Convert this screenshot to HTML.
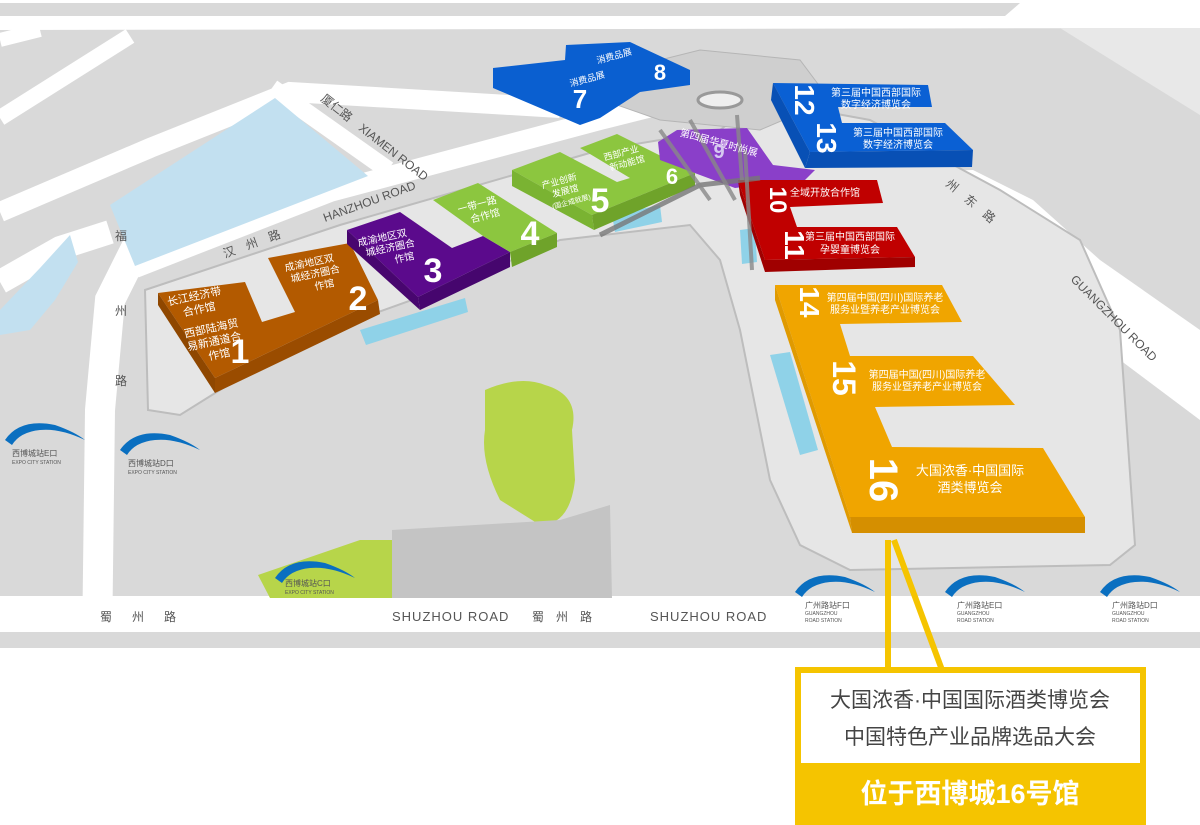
<!DOCTYPE html>
<html><head><meta charset="utf-8"><style>
html,body{margin:0;padding:0;background:#fff;}
svg{display:block;font-family:"Liberation Sans","Noto Sans CJK SC",sans-serif;}
</style></head><body>
<svg width="1200" height="825" viewBox="0 0 1200 825" xmlns="http://www.w3.org/2000/svg">
<rect x="0" y="0" width="1200" height="650" fill="#d9d9d9"/>
<!-- roads -->
<rect x="0" y="0" width="1200" height="3" fill="#fff"/>
<polygon points="1020,3 1200,3 1200,16 1005,16" fill="#fff"/>
<polygon points="0,16 1200,16 1200,28 0,30" fill="#fff"/>
<polygon points="1060,28 1200,28 1200,115" fill="#e8e8e8"/>
<g stroke="#fff" fill="none" stroke-linecap="butt">
<path d="M0 118 L130 36" stroke-width="16"/>
<path d="M0 212 L150 148 L290 92 L560 108" stroke-width="20"/>
<path d="M272 88 L388 170" stroke-width="18"/>
<path d="M135 268 L330 192 L600 120 L700 95" stroke-width="20"/>
<path d="M97 650 L100 410 L110 300 L140 240 L205 200" stroke-width="30"/>
<path d="M0 282 L60 248 L110 232" stroke-width="24"/>
<path d="M0 40 L40 30" stroke-width="14"/>
</g>
<polygon points="900,172 973,170 1033,200 1100,260 1200,330 1200,420 1120,360 1050,287 967,233" fill="#fff"/>
<rect x="0" y="596" width="1200" height="36" fill="#fff"/>
<rect x="65" y="632" width="645" height="16" fill="#d9d9d9"/>
<rect x="726" y="632" width="466" height="16" fill="#d9d9d9"/>
<rect x="0" y="648" width="1200" height="177" fill="#fff"/>
<!-- water -->
<polygon points="110,205 275,98 368,176 135,266" fill="#c2e0f0"/>
<polygon points="0,310 40,268 70,235 78,262 55,300 30,330 0,335" fill="#c2e0f0"/>
<!-- venue site -->
<path d="M145 290 L340 225 L600 150 L720 130 L760 100 L870 120 L1000 190 L1080 240 L1120 330 L1135 545 L1110 565 L850 570 L800 545 L770 480 L740 330 L720 260 L690 225 L560 240 L440 290 L300 340 L220 390 L180 415 L148 410 Z" fill="#e6e6e6" stroke="#bdbdbd" stroke-width="2"/>
<path d="M560 85 L700 50 L800 60 L830 100 L760 130 L660 120 Z" fill="#cfcfcf" stroke="#b5b5b5"/>
<!-- greens & dark -->
<path d="M485 390 Q520 375 545 385 Q580 395 572 430 L575 480 Q570 525 540 525 L500 500 Q480 460 485 430 Z" fill="#b7d54a"/>
<polygon points="258,575 360,540 395,540 395,598 270,598" fill="#b7d54a"/>
<polygon points="392,530 560,520 610,505 612,598 392,598" fill="#c4c4c4"/>
<!-- cyan slabs -->
<polygon points="360,330 465,298 468,312 366,345" fill="#8fd2e8"/>
<polygon points="612,215 660,205 662,222 615,232" fill="#8fd2e8"/>
<polygon points="770,355 790,352 818,450 800,455" fill="#8fd2e8"/>
<polygon points="740,230 755,228 757,262 742,264" fill="#8fd2e8"/>
<!-- buildings -->
<polygon points="158,293 245,282 262,322 295,312 268,258 350,243 378,300 215,378" fill="#b35a00"/>
<polygon points="158,293 215,378 215,393 158,305" fill="#8f4700"/>
<polygon points="215,378 378,300 380,314 215,393" fill="#9a4c00"/>
<polygon points="347,230 400,212 452,248 483,236 510,252 418,297" fill="#5b0a8c"/>
<polygon points="347,230 418,297 420,310 347,244" fill="#48066f"/>
<polygon points="418,297 510,252 510,267 420,310" fill="#46066e"/>
<polygon points="433,200 478,183 557,233 510,252 483,236" fill="#8cc63f"/>
<polygon points="510,252 557,233 557,247 512,267" fill="#6fa32a"/>
<polygon points="512,170 560,152 617,182 630,178 580,148 617,134 695,173 592,215" fill="#8cc63f"/>
<polygon points="512,170 592,215 594,230 512,186" fill="#7ab332"/>
<polygon points="592,215 695,173 695,186 594,230" fill="#6fa32a"/>
<polygon points="658,142 677,130 747,128 773,165 815,170 805,180 735,188 700,175 660,160" fill="#8a3fc9"/>
<polygon points="493,68 565,60 566,45 630,42 690,70 690,85 640,92 600,118 580,125 493,88" fill="#0a5fd0"/>
<polygon points="773,83 928,85 932,107 838,107 842,123 945,123 973,150 810,152" fill="#0a60d4"/>
<polygon points="773,83 810,152 805,168 771,100" fill="#0850b5"/>
<polygon points="810,152 973,150 972,167 805,168" fill="#0850b5"/>
<polygon points="738,180 877,180 883,203 790,207 797,227 897,227 915,257 765,260" fill="#c00000"/>
<polygon points="738,180 765,260 765,272 740,195" fill="#a00000"/>
<polygon points="765,260 915,257 915,267 765,272" fill="#a00000"/>
<polygon points="775,285 942,285 962,322 840,324 850,356 973,356 1015,405 875,407 892,447 1043,448 1085,517 850,517" fill="#f0a500"/>
<polygon points="775,285 850,517 852,533 775,300" fill="#e09a00"/>
<polygon points="850,517 1085,517 1085,533 852,533" fill="#d58f00"/>
<!-- bridges -->
<path d="M600 235 L700 185 L760 178" stroke="#777" stroke-width="5" fill="none" opacity="0.8"/>
<path d="M660 130 L710 200 M690 120 L735 200 M737 115 L742 180 M745 150 L752 270" stroke="#888" stroke-width="4" fill="none" opacity="0.8"/>
<ellipse cx="720" cy="100" rx="22" ry="8" fill="#eee" stroke="#999" stroke-width="3"/>
<!-- building labels -->
<g fill="#fff" font-size="11" text-anchor="middle">
<text x="195" y="300" transform="rotate(-12 195 300)">长江经济带</text>
<text x="200" y="313" transform="rotate(-12 200 313)">合作馆</text>
<text x="212" y="332" transform="rotate(-12 212 332)">西部陆海贸</text>
<text x="215" y="345" transform="rotate(-12 215 345)">易新通道合</text>
<text x="220" y="358" transform="rotate(-12 220 358)">作馆</text>
<text x="310" y="266" font-size="10" transform="rotate(-12 310 266)">成渝地区双</text>
<text x="316" y="277" font-size="10" transform="rotate(-12 316 277)">城经济圈合</text>
<text x="325" y="288" font-size="10" transform="rotate(-12 325 288)">作馆</text>
<text x="383" y="241" font-size="10" transform="rotate(-12 383 241)">成渝地区双</text>
<text x="391" y="251" font-size="10" transform="rotate(-12 391 251)">城经济圈合</text>
<text x="405" y="261" font-size="10" transform="rotate(-12 405 261)">作馆</text>
<text x="478" y="208" font-size="10" transform="rotate(-15 478 208)">一带一路</text>
<text x="486" y="219" font-size="10" transform="rotate(-15 486 219)">合作馆</text>
<text x="560" y="184" font-size="9" transform="rotate(-15 560 184)">产业创新</text>
<text x="566" y="194" font-size="9" transform="rotate(-15 566 194)">发展馆</text>
<text x="572" y="204" font-size="7" transform="rotate(-15 572 204)">(国企成就展)</text>
<text x="622" y="156" font-size="9" transform="rotate(-15 622 156)">西部产业</text>
<text x="628" y="166" font-size="9" transform="rotate(-15 628 166)">新动能馆</text>
<text x="718" y="146" font-size="10" transform="rotate(15 718 146)">第四届华夏时尚展</text>
<text x="588" y="82" font-size="9" transform="rotate(-15 588 82)">消费品展</text>
<text x="615" y="59" font-size="9" transform="rotate(-15 615 59)">消费品展</text>
<text x="876" y="96" font-size="10">第三届中国西部国际</text>
<text x="876" y="108" font-size="10">数字经济博览会</text>
<text x="898" y="136" font-size="10">第三届中国西部国际</text>
<text x="898" y="148" font-size="10">数字经济博览会</text>
<text x="825" y="196" font-size="10">全域开放合作馆</text>
<text x="850" y="240" font-size="10">第三届中国西部国际</text>
<text x="850" y="253" font-size="10">孕婴童博览会</text>
<text x="885" y="301" font-size="10">第四届中国(四川)国际养老</text>
<text x="885" y="313" font-size="10">服务业暨养老产业博览会</text>
<text x="927" y="378" font-size="10">第四届中国(四川)国际养老</text>
<text x="927" y="390" font-size="10">服务业暨养老产业博览会</text>
<text x="970" y="475" font-size="13">大国浓香·中国国际</text>
<text x="970" y="492" font-size="13">酒类博览会</text>
</g>
<g fill="#fff" font-size="34" font-weight="bold" text-anchor="middle">
<text x="240" y="363">1</text><text x="358" y="310">2</text><text x="433" y="282">3</text>
<text x="530" y="245">4</text><text x="600" y="212">5</text><text x="672" y="184" font-size="22">6</text>
<text x="580" y="108" font-size="26">7</text><text x="660" y="80" font-size="22">8</text>
<text x="719" y="158" font-size="20" fill="#d6c8f0">9</text>
<text x="770" y="200" font-size="24" transform="rotate(90 770 200)">10</text>
<text x="785" y="245" font-size="28" transform="rotate(90 785 245)">11</text>
<text x="795" y="100" font-size="28" transform="rotate(90 795 100)">12</text>
<text x="817" y="138" font-size="28" transform="rotate(90 817 138)">13</text>
<text x="800" y="302" font-size="28" transform="rotate(90 800 302)">14</text>
<text x="833" y="378" font-size="32" transform="rotate(90 833 378)">15</text>
<text x="870" y="480" font-size="40" transform="rotate(90 870 480)">16</text>
</g>
<!-- road labels -->
<g fill="#555" font-size="12">
<text x="115" y="240">福</text><text x="115" y="315">州</text><text x="115" y="385">路</text>
<text x="225" y="258" transform="rotate(-20 225 258)">汉　州　路</text>
<text x="325" y="222" transform="rotate(-20 325 222)">HANZHOU ROAD</text>
<text x="320" y="100" transform="rotate(38 320 100)">厦仁路　XIAMEN ROAD</text>
<text x="945" y="185" transform="rotate(40 945 185)">州　东　路</text>
<text x="1070" y="280" transform="rotate(45 1070 280)">GUANGZHOU ROAD</text>
<text x="100" y="621" letter-spacing="20">蜀州路</text>
<text x="392" y="621" font-size="13" letter-spacing="1">SHUZHOU ROAD</text>
<text x="532" y="621" letter-spacing="12">蜀州路</text>
<text x="650" y="621" font-size="13" letter-spacing="1">SHUZHOU ROAD</text>
</g>
<!-- stations -->
<g>
<path d="M5 440 Q20 418 55 425 Q75 432 85 440 Q60 428 40 430 Q20 432 12 445 Z" fill="#0a6fc0"/>
<path d="M120 450 Q135 428 170 435 Q190 442 200 450 Q175 438 155 440 Q135 442 127 455 Z" fill="#0a6fc0"/>
<path d="M275 578 Q290 556 325 563 Q345 570 355 578 Q330 566 310 568 Q290 570 282 583 Z" fill="#0a6fc0"/>
<path d="M795 592 Q810 570 845 577 Q865 584 875 592 Q850 580 830 582 Q810 584 802 597 Z" fill="#0a6fc0"/>
<path d="M945 592 Q960 570 995 577 Q1015 584 1025 592 Q1000 580 980 582 Q960 584 952 597 Z" fill="#0a6fc0"/>
<path d="M1100 592 Q1115 570 1150 577 Q1170 584 1180 592 Q1155 580 1135 582 Q1115 584 1107 597 Z" fill="#0a6fc0"/>
<g fill="#555" font-size="8">
<text x="12" y="456">西博城站E口</text><text x="12" y="464" font-size="5">EXPO CITY STATION</text>
<text x="128" y="466">西博城站D口</text><text x="128" y="474" font-size="5">EXPO CITY STATION</text>
<text x="285" y="586">西博城站C口</text><text x="285" y="594" font-size="5">EXPO CITY STATION</text>
<text x="805" y="608">广州路站F口</text><text x="805" y="615" font-size="5">GUANGZHOU</text><text x="805" y="622" font-size="5">ROAD STATION</text>
<text x="957" y="608">广州路站E口</text><text x="957" y="615" font-size="5">GUANGZHOU</text><text x="957" y="622" font-size="5">ROAD STATION</text>
<text x="1112" y="608">广州路站D口</text><text x="1112" y="615" font-size="5">GUANGZHOU</text><text x="1112" y="622" font-size="5">ROAD STATION</text>
</g>
</g>
<!-- callout -->
<path d="M888 540 L888 670" stroke="#f5c400" stroke-width="6"/>
<path d="M894 540 L942 670" stroke="#f5c400" stroke-width="6"/>
<rect x="795" y="667" width="351" height="158" fill="#f5c400"/>
<rect x="801" y="673" width="339" height="90" fill="#fff"/>
<text x="970" y="707" text-anchor="middle" font-size="21" fill="#444">大国浓香·中国国际酒类博览会</text>
<text x="970" y="744" text-anchor="middle" font-size="21" fill="#444">中国特色产业品牌选品大会</text>
<text x="970" y="803" text-anchor="middle" font-size="27" font-weight="bold" fill="#fff">位于西博城16号馆</text>
</svg>
</body></html>
